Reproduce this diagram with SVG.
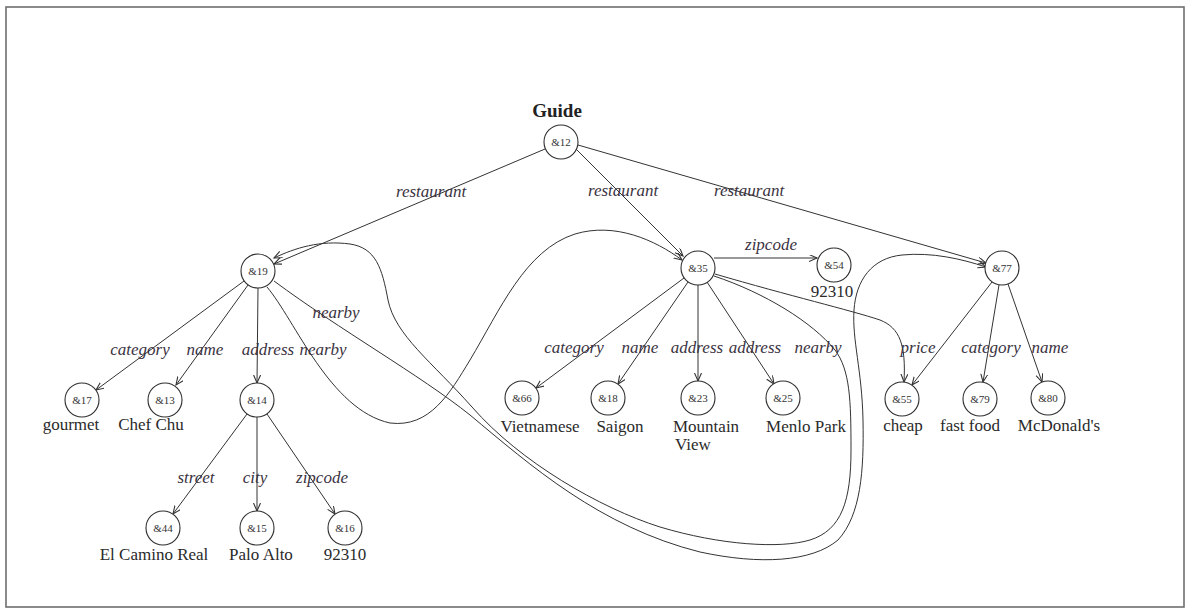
<svg xmlns="http://www.w3.org/2000/svg" width="1190" height="613" viewBox="0 0 1190 613">
<style>
.bg{fill:#ffffff}
.frame{fill:none;stroke:#6e6e6e;stroke-width:1.6}
.node circle{fill:#ffffff;stroke:#2e2e2e;stroke-width:1.1}
.id{font-family:"Liberation Serif","DejaVu Serif",serif;font-size:11px;fill:#333;text-anchor:middle}
.val{font-family:"Liberation Serif","DejaVu Serif",serif;font-size:17px;fill:#2a2a2a;text-anchor:middle}
.lbl{font-family:"Liberation Serif","DejaVu Serif",serif;font-size:17px;font-style:italic;fill:#3b3342;text-anchor:middle}
.title{font-family:"Liberation Serif","DejaVu Serif",serif;font-size:19px;font-weight:bold;fill:#222;text-anchor:middle}
#edges path,#edges line{fill:none;stroke:#333;stroke-width:1;marker-end:url(#arr)}
</style>
<defs>
<marker id="arr" markerUnits="userSpaceOnUse" markerWidth="10" markerHeight="8" refX="8" refY="3.5" orient="auto">
<path d="M0,0 L8,3.5 L0,7" fill="none" stroke="#333" stroke-width="1.1"/>
</marker>
</defs>
<rect class="bg" x="0" y="0" width="1190" height="613"/>
<rect class="frame" x="6" y="7" width="1178" height="600"/>

<g id="edges">
<line x1="545" y1="149" x2="274" y2="264"/>
<line x1="576" y1="149" x2="683" y2="256"/>
<line x1="578" y1="145" x2="986" y2="263"/>
<line x1="244" y1="281" x2="96" y2="390"/>
<line x1="248" y1="285" x2="176" y2="385"/>
<line x1="258" y1="288" x2="257" y2="383"/>
<line x1="247" y1="414" x2="173" y2="514"/>
<line x1="257" y1="417" x2="257" y2="511"/>
<line x1="267" y1="414" x2="335" y2="514"/>
<line x1="714" y1="258" x2="817" y2="258"/>
<line x1="684" y1="278" x2="536" y2="388"/>
<line x1="688" y1="282" x2="618" y2="384"/>
<line x1="698" y1="285" x2="698" y2="381"/>
<line x1="707" y1="282" x2="774" y2="384"/>
<line x1="992" y1="282" x2="912" y2="385"/>
<line x1="999" y1="285" x2="983" y2="382"/>
<line x1="1008" y1="284" x2="1042" y2="382"/>
<path d="M267,287 C295,320 330,410 390,423 C430,428 450,393 470,360 C500,310 525,250 575,234 C615,222 655,240 682,260"/>
<path d="M714,276 C765,293 812,322 835,350 C850,370 851,400 851,450 C851,500 842,530 810,540 C780,549 720,545 660,527 C600,508 520,462 472,407 C432,362 395,335 388,300 C382,268 376,248 350,244 C320,240 295,248 274,258"/>
<path d="M274,281 C340,330 420,375 470,415 C530,465 600,527 700,552 C760,565 812,562 838,540 C861,515 864,470 863,420 C862,370 852,340 854,310 C856,280 872,258 902,255 C932,252 962,259 986,267"/>
<path d="M715,274 C790,296 850,310 880,320 C900,328 906,345 904,382"/>
</g>

<g id="edge-labels">
<text class="lbl" x="431" y="197">restaurant</text>
<text class="lbl" x="623" y="196">restaurant</text>
<text class="lbl" x="749" y="196">restaurant</text>
<text class="lbl" x="771" y="250">zipcode</text>
<text class="lbl" x="336" y="318">nearby</text>
<text class="lbl" x="140" y="355">category</text>
<text class="lbl" x="205" y="355">name</text>
<text class="lbl" x="268" y="355">address</text>
<text class="lbl" x="323" y="355">nearby</text>
<text class="lbl" x="196" y="483">street</text>
<text class="lbl" x="255" y="483">city</text>
<text class="lbl" x="322" y="483">zipcode</text>
<text class="lbl" x="574" y="353">category</text>
<text class="lbl" x="640" y="353">name</text>
<text class="lbl" x="697" y="353">address</text>
<text class="lbl" x="755" y="353">address</text>
<text class="lbl" x="818" y="353">nearby</text>
<text class="lbl" x="918" y="353">price</text>
<text class="lbl" x="991" y="353">category</text>
<text class="lbl" x="1050" y="353">name</text>
</g>

<g id="n12" class="node"><text class="title" x="557" y="117">Guide</text><circle cx="561" cy="142" r="17"/><text class="id" x="561" y="146">&amp;12</text></g>
<g id="n19" class="node"><circle cx="258" cy="271" r="17"/><text class="id" x="258" y="275">&amp;19</text></g>
<g id="n35" class="node"><circle cx="698" cy="268" r="17"/><text class="id" x="698" y="272">&amp;35</text></g>
<g id="n54" class="node"><circle cx="834" cy="265" r="17"/><text class="id" x="834" y="269">&amp;54</text><text class="val" x="832" y="297">92310</text></g>
<g id="n77" class="node"><circle cx="1002" cy="268" r="17"/><text class="id" x="1002" y="272">&amp;77</text></g>
<g id="n17" class="node"><circle cx="82" cy="400" r="17"/><text class="id" x="82" y="404">&amp;17</text><text class="val" x="71" y="430">gourmet</text></g>
<g id="n13" class="node"><circle cx="165" cy="400" r="17"/><text class="id" x="165" y="404">&amp;13</text><text class="val" x="151" y="430">Chef Chu</text></g>
<g id="n14" class="node"><circle cx="257" cy="400" r="17"/><text class="id" x="257" y="404">&amp;14</text></g>
<g id="n44" class="node"><circle cx="163" cy="528" r="17"/><text class="id" x="163" y="532">&amp;44</text><text class="val" x="154" y="560">El Camino Real</text></g>
<g id="n15" class="node"><circle cx="257" cy="528" r="17"/><text class="id" x="257" y="532">&amp;15</text><text class="val" x="261" y="560">Palo Alto</text></g>
<g id="n16" class="node"><circle cx="345" cy="528" r="17"/><text class="id" x="345" y="532">&amp;16</text><text class="val" x="345" y="560">92310</text></g>
<g id="n66" class="node"><circle cx="522" cy="398" r="17"/><text class="id" x="522" y="402">&amp;66</text><text class="val" x="540" y="432">Vietnamese</text></g>
<g id="n18" class="node"><circle cx="608" cy="398" r="17"/><text class="id" x="608" y="402">&amp;18</text><text class="val" x="620" y="432">Saigon</text></g>
<g id="n23" class="node"><circle cx="698" cy="398" r="17"/><text class="id" x="698" y="402">&amp;23</text><text class="val" x="673" y="432" style="text-anchor:start">Mountain</text><text class="val" x="675" y="450" style="text-anchor:start">View</text></g>
<g id="n25" class="node"><circle cx="783" cy="398" r="17"/><text class="id" x="783" y="402">&amp;25</text><text class="val" x="806" y="432">Menlo Park</text></g>
<g id="n55" class="node"><circle cx="902" cy="399" r="17"/><text class="id" x="902" y="403">&amp;55</text><text class="val" x="903" y="431">cheap</text></g>
<g id="n79" class="node"><circle cx="980" cy="399" r="17"/><text class="id" x="980" y="403">&amp;79</text><text class="val" x="970" y="431">fast food</text></g>
<g id="n80" class="node"><circle cx="1048" cy="398" r="17"/><text class="id" x="1048" y="402">&amp;80</text><text class="val" x="1059" y="431">McDonald's</text></g>
</svg>
